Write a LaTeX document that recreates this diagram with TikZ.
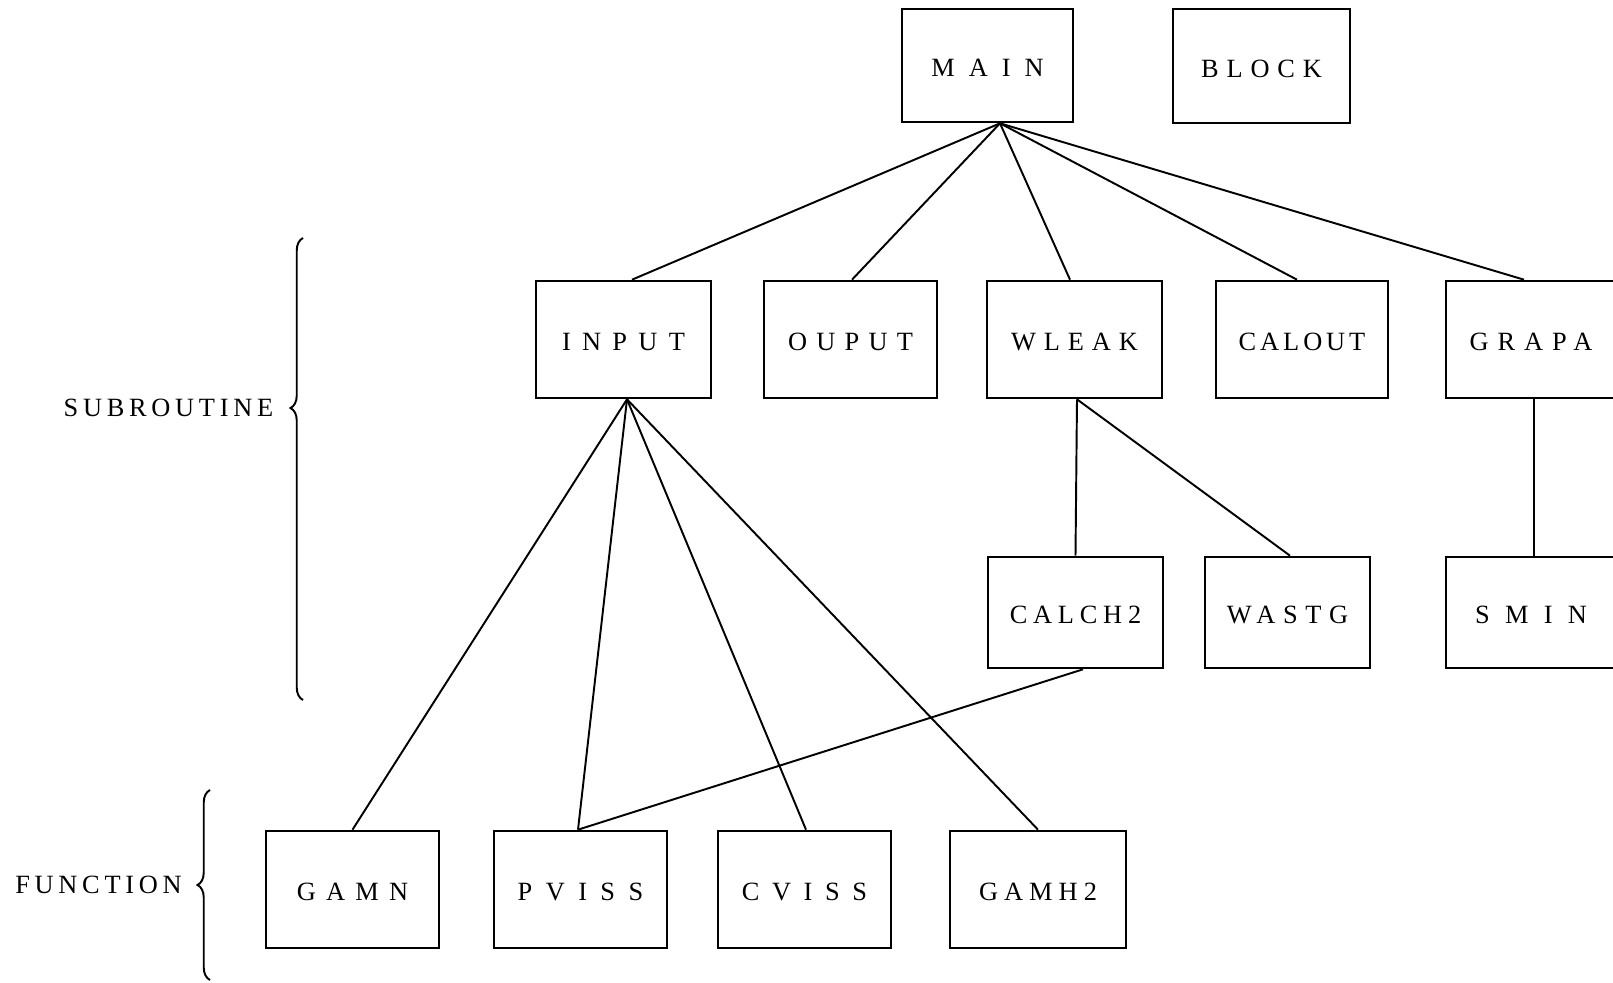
\documentclass[tikz,border=0pt]{standalone}
\usepackage{fontspec}
\setmainfont{Liberation Serif}
\usepackage{tikz}
\usetikzlibrary{positioning, decorations.pathreplacing}

% letter-spaced caps, set a little low inside their box
\newcommand{\spaced}[2]{\raisebox{-1.5pt}[\height][0pt]{\addfontfeature{LetterSpace=#1}#2}}

\tikzset{
    routine/.style={rectangle, draw=black, line width=1.5pt, inner sep=0pt, minimum width=3.5cm, minimum height=2.34cm, font=\fontsize{15}{18}\selectfont},
    link/.style={line width=1.1pt},
    group/.style={decorate, decoration={brace, amplitude=0.25cm, aspect=#1}, line width=1.1pt},
    group/.default=0.5,
    grouplabel/.style={font=\fontsize{15}{18}\selectfont, anchor=east}
}

\begin{document}
\begin{tikzpicture}
    \useasboundingbox (0,0) rectangle (32.26,-19.66);

    % Main program and block data
    \node[routine, minimum width=3.42cm, minimum height=2.26cm] (main) at (19.75,-1.31) {\spaced{53}{MAIN}};
    \node[routine, minimum width=3.54cm, minimum height=2.28cm] (block) at (25.23,-1.32) {\spaced{30}{BLOCK}};

    % Subroutines called by MAIN
    \node[routine] (input) at (12.47,-6.79) {\spaced{43}{INPUT}};
    \node[routine, minimum width=3.46cm] (ouput) at (17.01,-6.79) {\spaced{35}{OUPUT}};
    \node[routine] (wleak) at (21.49,-6.79) {\spaced{30}{WLEAK}};
    \node[routine, minimum width=3.44cm] (calout) at (26.04,-6.79) {\spaced{15}{CALOUT}};
    \node[routine, minimum width=3.4cm] (grapa) at (30.62,-6.79) {\spaced{34}{GRAPA}};

    % Second level subroutines
    \node[routine, minimum height=2.22cm] (calch) at (21.51,-12.25) {\spaced{22}{CALCH2}};
    \node[routine, minimum width=3.3cm, minimum height=2.22cm] (wastg) at (25.75,-12.25) {\spaced{29}{WASTG}};
    \node[routine, minimum width=3.4cm, minimum height=2.22cm] (smin) at (30.62,-12.25) {\spaced{58}{SMIN}};

    % Functions
    \node[routine, minimum width=3.46cm] (gamn) at (7.05,-17.79) {\spaced{39}{GAMN}};
    \node[routine, minimum width=3.46cm] (pviss) at (11.61,-17.79) {\spaced{51}{PVISS}};
    \node[routine, minimum width=3.46cm] (cviss) at (16.09,-17.79) {\spaced{48}{CVISS}};
    \node[routine, minimum width=3.52cm] (gamh) at (20.76,-17.79) {\spaced{23}{GAMH2}};

    % Calls from MAIN
    \draw[link] ([xshift=2.5mm]main.south) -- ([xshift=1.7mm]input.north);
    \draw[link] ([xshift=2.5mm]main.south) -- ([xshift=0.3mm]ouput.north);
    \draw[link] ([xshift=2.5mm]main.south) -- ([xshift=-0.9mm]wleak.north);
    \draw[link] ([xshift=2.5mm]main.south) -- ([xshift=-1mm]calout.north);
    \draw[link] ([xshift=2.5mm]main.south) -- ([xshift=-1.4mm]grapa.north);

    % Calls from INPUT
    \draw[link] ([xshift=0.7mm]input.south) -- (gamn.north);
    \draw[link] ([xshift=0.7mm]input.south) -- ([xshift=-0.5mm]pviss.north);
    \draw[link] ([xshift=0.7mm]input.south) -- ([xshift=0.3mm]cviss.north);
    \draw[link] ([xshift=0.7mm]input.south) -- (gamh.north);

    % Calls from WLEAK, CALCH2 and GRAPA
    \draw[link] ([xshift=0.5mm]wleak.south) -- (calch.north);
    \draw[link] ([xshift=0.5mm]wleak.south) -- ([xshift=0.5mm]wastg.north);
    \draw[link] ([xshift=1.5mm]calch.south) -- ([xshift=-0.5mm]pviss.north);
    \draw[link] ([xshift=0.6mm]grapa.south) -- ([xshift=0.6mm]smin.north);

    % Braces
    \coordinate (subbot) at (6.06,-14.0);
    \coordinate (subtop) at (6.06,-4.76);
    \coordinate (funbot) at (4.2,-19.6);
    \coordinate (funtop) at (4.2,-15.8);
    \draw[group=0.632] (subbot) -- (subtop);
    \draw[group] (funbot) -- (funtop);
    \node[grouplabel] (sublabel) at (5.59,-8.1) {\spaced{18}{SUBROUTINE}};
    \node[grouplabel] (funlabel) at (3.76,-17.64) {\spaced{18}{FUNCTION}};
\end{tikzpicture}
\end{document}
